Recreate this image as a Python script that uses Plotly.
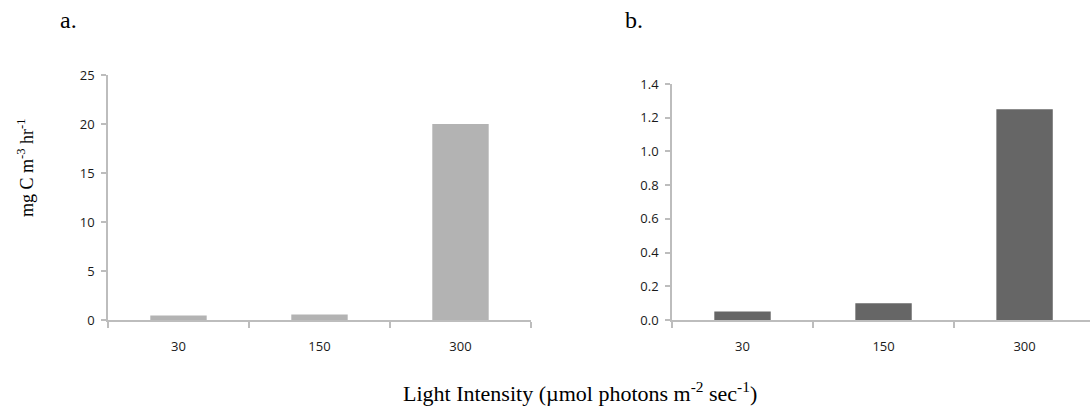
import plotly.graph_objects as go

categories = ["30", "150", "300"]
values_a = [0.45, 0.55, 20.0]
values_b = [0.05, 0.10, 1.25]
ticks_a = [0, 5, 10, 15, 20, 25]
ticks_b = [0.0, 0.2, 0.4, 0.6, 0.8, 1.0, 1.2, 1.4]

W, H = 1090, 413


def px_x(v):
    return v / W


def px_y(v):
    return 1 - v / H


fig = go.Figure()
fig.add_trace(go.Bar(x=categories, y=values_a, marker=dict(color="#b3b3b3", line=dict(width=0)),
                     width=0.4, xaxis="x", yaxis="y", showlegend=False))
fig.add_trace(go.Bar(x=categories, y=values_b, marker=dict(color="#666666", line=dict(width=0)),
                     width=0.4, xaxis="x2", yaxis="y2", showlegend=False))

axis_col = "#bdbdbd"
tickfont = dict(family="Open Sans, Liberation Sans, sans-serif", size=13, color="#1a1a1a")


def xax(domain, rng):
    return dict(domain=domain, range=rng, type="category", showline=True, linecolor=axis_col, linewidth=1.5,
                ticks="outside", tickson="boundaries", ticklen=6, tickcolor=axis_col, tickwidth=1.5,
                showgrid=False, zeroline=False, tickfont=tickfont, ticklabelstandoff=14, automargin=False)


def yax(domain, rng, tv, anchor, fmt=None):
    d = dict(domain=domain, range=rng, tickvals=tv, showline=True, linecolor=axis_col, linewidth=1.5,
             ticks="outside", ticklen=5, tickcolor=axis_col, tickwidth=1.5, showgrid=False,
             zeroline=False, tickfont=tickfont, anchor=anchor, ticklabelstandoff=4, automargin=False)
    if fmt:
        d["tickformat"] = fmt
    return d


fig.update_layout(
    width=W, height=H, autosize=False,
    margin=dict(l=0, r=0, t=0, b=0, pad=0),
    paper_bgcolor="white", plot_bgcolor="white",
    hovermode=False,
    xaxis=xax([px_x(108), px_x(531)], [-0.5, 2.5]),
    xaxis2=xax([px_x(672), 1.0], [-0.5, 2.464]),
    yaxis=yax([px_y(320), px_y(75)], [0, 25], ticks_a, "x"),
    yaxis2=yax([px_y(320), px_y(84)], [0, 1.4], ticks_b, "x2", ".1f"),
)

serif = "Liberation Serif, Times New Roman, serif"
ann = [
    dict(text="a.", x=px_x(58), y=px_y(20), xanchor="left", yanchor="middle",
         font=dict(family=serif, size=24, color="black")),
    dict(text="b.", x=px_x(623), y=px_y(20), xanchor="left", yanchor="middle",
         font=dict(family=serif, size=24, color="black")),
    dict(text="mg C m<sup>-3</sup> hr<sup>-1</sup>", x=px_x(25), y=px_y(168), textangle=-90,
         xanchor="center", yanchor="middle", font=dict(family=serif, size=18, color="black")),
    dict(text="Light Intensity (µmol photons m<sup>-2</sup> sec<sup>-1</sup>)", x=px_x(580), y=px_y(392),
         xanchor="center", yanchor="middle", font=dict(family=serif, size=22, color="black")),
]
for a in ann:
    a.update(xref="paper", yref="paper", showarrow=False)
fig.update_layout(annotations=ann)

fig.write_html("out.html", config={"displayModeBar": False},
               post_script="document.body.style.margin='0';document.body.style.overflow='hidden';")
